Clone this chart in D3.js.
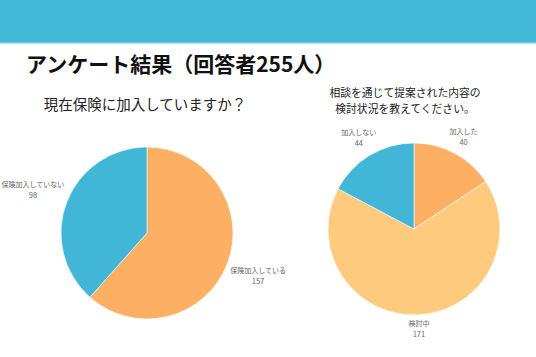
<!DOCTYPE html>
<html><head><meta charset="utf-8">
<script src="https://cdn.jsdelivr.net/npm/d3@7"></script>
<style>
html,body{margin:0;padding:0;background:#fff;}
svg{display:block;font-family:"Noto Sans CJK JP","Noto Sans",sans-serif;}
</style></head>
<body>
<svg id="chart" width="536" height="357"></svg>
<script>
const title = "アンケート結果（回答者255人）";
const q1Title = ["現在保険に加入していますか？"];
const q1Labels = ["保険加入している", "保険加入していない"];
const q1Values = [157, 98];
const q1Colors = ["#fdb064", "#41b6d6"];

const q2Title = ["相談を通じて提案された内容の", "検討状況を教えてください。"];
const q2Labels = ["加入した", "検討中", "加入しない"];
const q2Values = [40, 171, 44];
const q2Colors = ["#fdb064", "#fecb7e", "#41b6d6"];

const svg = d3.select("#chart");
svg.append("rect").attr("x",0).attr("y",0).attr("width",536).attr("height",43).attr("fill","#42b7d6");
svg.append("rect").attr("x",0).attr("y",42).attr("width",536).attr("height",1.5).attr("fill","#6cc9e3");

svg.append("text").attr("x",26).attr("y",72).attr("font-size",21).attr("font-weight","bold")
  .attr("fill","#111").text(title);

function drawPie(cx, cy, r, labels, values, colors, titleLines, tx, ty, tsize, lineH) {
  const g = svg.append("g");
  titleLines.forEach((t,i)=>{
    g.append("text").attr("x",tx).attr("y",ty+i*lineH).attr("text-anchor","middle")
     .attr("dominant-baseline","central").attr("font-size",tsize).attr("fill","#222").text(t);
  });
  const data = labels.map((l,i)=>({label:l, value:values[i], color:colors[i]}));
  const pie = d3.pie().sort(null).value(d=>d.value);
  const arc = d3.arc().innerRadius(0).outerRadius(r);
  const arcs = pie(data);
  const pg = g.append("g").attr("transform",`translate(${cx},${cy})`);
  pg.selectAll("path").data(arcs).join("path").attr("d",arc)
    .attr("fill",d=>d.data.color).attr("stroke","#fff").attr("stroke-width",0.6);
  arcs.forEach(a=>{
    const ang = (a.startAngle+a.endAngle)/2;
    const ux = Math.sin(ang), uy = -Math.cos(ang);
    const lg = pg.append("g");
    const t1 = lg.append("text").attr("text-anchor","middle").attr("font-size",7).attr("fill","#666")
      .attr("y",-2).text(a.data.label);
    const t2 = lg.append("text").attr("text-anchor","middle").attr("font-size",7.5).attr("fill","#666")
      .attr("y",9).text(a.data.value);
    const bb = lg.node().getBBox();
    const hw = bb.width/2, hh = bb.height/2;
    const bcx = bb.x+hw, bcy = bb.y+hh;
    const d = r + 3 + hw*Math.abs(ux) + hh*Math.abs(uy);
    lg.attr("transform",`translate(${d*ux-bcx},${d*uy-bcy})`);
  });
}

drawPie(147, 233, 86, q1Labels, q1Values, q1Colors, q1Title, 145, 103, 14.5, 0);
drawPie(414, 229, 86, q2Labels, q2Values, q2Colors, q2Title, 405, 92, 10.8, 15.5);
</script>
</body></html>
